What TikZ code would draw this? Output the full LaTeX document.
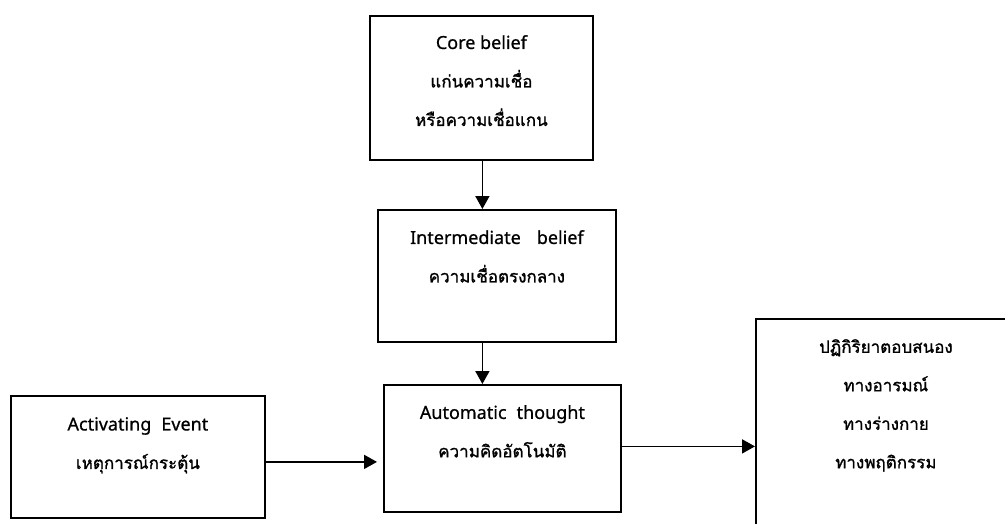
\documentclass[tikz,border=0pt]{standalone}
\usepackage{fontspec}
\newfontfamily\thaifont[Script=Thai,FakeBold=1.2]{Loma}
\newfontfamily\latfont[FakeBold=0.7]{Noto Sans}
\newcommand{\lat}[1]{{\latfont\fontsize{18}{38.5}\selectfont #1}}
\usetikzlibrary{positioning,arrows.meta}

\begin{document}
\begin{tikzpicture}[x=1pt,y=-1pt,
    box/.style={draw, line width=1.8pt, rectangle, anchor=north west, inner sep=0pt},
    txt/.style={align=center, anchor=north, inner sep=0pt,
        font=\thaifont\fontsize{17}{38.5}\selectfont,
        execute at begin node={\rule{0pt}{20pt}}},
    arr/.style={line width=1.8pt, -{Triangle[length=13pt,width=14pt]}}]
    \clip (0,0) rectangle (1005,523);

    % Define boxes
    \node[box, minimum width=223pt, minimum height=144pt] (core) at (369,15) {};
    \node[box, minimum width=238pt, minimum height=132pt] (inter) at (377,209) {};
    \node[box, minimum width=237pt, minimum height=127pt] (auto) at (383,384) {};
    \node[box, minimum width=254pt, minimum height=122pt] (event) at (10,395) {};
    \node[box, minimum width=262pt, minimum height=240pt] (resp) at (755,318) {};

    % Texts inside the boxes
    \node[txt] (coretxt) at ([yshift=-20pt]core.north) {\lat{Core belief}\\แก่นความเชื่อ\\หรือความเชื่อแกน};
    \node[txt] (intertxt) at ([yshift=-21pt]inter.north) {\lat{Intermediate\hspace{16pt}belief}\\ความเชื่อตรงกลาง};
    \node[txt] (autotxt) at ([yshift=-21pt]auto.north) {\lat{Automatic\hspace{10pt}thought}\\ความคิดอัตโนมัติ};
    \node[txt] (eventtxt) at ([yshift=-22pt]event.north) {\lat{Activating\hspace{10pt}Event}\\เหตุการณ์กระตุ้น};
    \node[txt] (resptxt) at ([xshift=-1pt,yshift=-21pt]resp.north) {ปฏิกิริยาตอบสนอง\\ทางอารมณ์\\ทางร่างกาย\\ทางพฤติกรรม};

    % Draw arrows
    \draw[arr] ([xshift=1pt]core.south) -- ([xshift=1pt]core.south |- inter.north);
    \draw[arr] ([xshift=1pt]core.south |- inter.south) -- ([xshift=1pt]core.south |- auto.north);
    \draw[arr] ([yshift=-5pt]event.east) -- ([yshift=-5pt,xshift=-6pt]event.east -| auto.west);
    \draw[arr] ([yshift=2pt]auto.east) -- ([yshift=2pt]auto.east -| resp.west);
\end{tikzpicture}
\end{document}
